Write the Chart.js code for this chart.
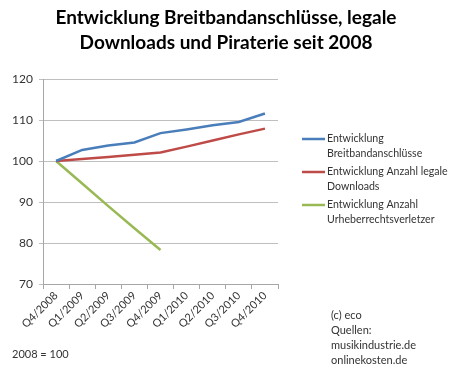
<!DOCTYPE html>
<html>
<head>
<meta charset="utf-8">
<script src="https://cdn.jsdelivr.net/npm/chart.js@4/dist/chart.umd.min.js"></script>
<style>
    html, body { margin: 0; padding: 0; background: #fff; }
    #box { width: 450px; height: 371px; position: relative; }
</style>
</head>
<body>
<div id="box"><canvas id="grafico"></canvas></div>
<script>
// dados do grafico
var quartale = ['Q4/2008', 'Q1/2009', 'Q2/2009', 'Q3/2009', 'Q4/2009', 'Q1/2010', 'Q2/2010', 'Q3/2010', 'Q4/2010'];
var breitband = [100, 102.7, 103.8, 104.5, 106.8, 107.7, 108.7, 109.5, 111.6];
var downloads = [100, 100.5, 101, 101.5, 102.1, 103.5, 105, 106.5, 107.9];
var verletzer = [100, 94.5, 89, 83.6, 78.3, null, null, null, null];
var serien_namen = [
    ['Entwicklung', 'Breitbandanschlüsse'],
    ['Entwicklung Anzahl legale', 'Downloads'],
    ['Entwicklung Anzahl', 'Urheberrechtsverletzer']
];
var titel = ['Entwicklung Breitbandanschlüsse, legale', 'Downloads und Piraterie seit 2008'];
var quellen = ['(c) eco', 'Quellen:', 'musikindustrie.de', 'onlinekosten.de'];
var basis = '2008 = 100';

var cor_azul = '#4a7ebb';
var cor_vermelho = '#be4b48';
var cor_verde = '#98b954';
var fonte = 'Lato, "Open Sans", sans-serif';

// titulo, legenda e notas desenhados no canvas
var extras = {
    id: 'extras',
    afterDraw: function (chart) {
        var ctx = chart.ctx;
        ctx.save();
        ctx.fillStyle = '#000';
        ctx.font = 'bold 19px ' + fonte;
        ctx.textAlign = 'center';
        ctx.textBaseline = 'middle';
        ctx.fillText(titel[0], 226, 18);
        ctx.fillText(titel[1], 226, 43);

        ctx.font = '10.6px ' + fonte;
        ctx.textAlign = 'left';
        ctx.fillStyle = '#333';
        var ys = [139, 172, 205];
        chart.data.datasets.forEach(function (ds, i) {
            ctx.strokeStyle = ds.borderColor;
            ctx.lineWidth = 2.5;
            ctx.beginPath();
            ctx.moveTo(302, ys[i]);
            ctx.lineTo(325, ys[i]);
            ctx.stroke();
            ctx.fillText(serien_namen[i][0], 327, ys[i]);
            ctx.fillText(serien_namen[i][1], 327, ys[i] + 15);
        });

        ctx.font = '11px ' + fonte;
        for (var i = 0; i < quellen.length; i++) {
            ctx.fillText(quellen[i], 331, 315 + i * 15);
        }
        ctx.fillText(basis, 12, 354);
        ctx.restore();
    }
};

var data = {
    labels: quartale,
    datasets: [{
        label: serien_namen[0].join(' '),
        data: breitband,
        borderColor: cor_azul,
        backgroundColor: cor_azul
    }, {
        label: serien_namen[1].join(' '),
        data: downloads,
        borderColor: cor_vermelho,
        backgroundColor: cor_vermelho
    }, {
        label: serien_namen[2].join(' '),
        data: verletzer,
        borderColor: cor_verde,
        backgroundColor: cor_verde
    }]
};

new Chart(document.getElementById('grafico'), {
    type: 'line',
    data: data,
    options: {
        responsive: true,
        maintainAspectRatio: false,
        animation: false,
        elements: {
            point: { radius: 0 },
            line: { borderWidth: 2.5, tension: 0 }
        },
        layout: { padding: { top: 79, right: 172, left: 0, bottom: 0 } },
        plugins: {
            legend: { display: false },
            title: { display: false },
            tooltip: { enabled: false }
        },
        scales: {
            x: {
                offset: true,
                afterFit: function (s) { s.height = 87; },
                border: { color: '#a6a6a6' },
                grid: { offset: true, drawOnChartArea: false, drawTicks: true, tickLength: 5, color: '#a6a6a6' },
                ticks: {
                    minRotation: 45,
                    maxRotation: 45,
                    color: '#333',
                    font: { family: fonte, size: 11 },
                    padding: 0
                }
            },
            y: {
                min: 70,
                max: 120,
                afterFit: function (s) { s.width = 43; },
                border: { color: '#a6a6a6' },
                grid: { color: '#bfbfbf', tickLength: 4 },
                ticks: {
                    stepSize: 10,
                    color: '#333',
                    font: { family: fonte, size: 12 },
                    padding: 6
                }
            }
        }
    },
    plugins: [extras]
});
</script>
</body>
</html>
